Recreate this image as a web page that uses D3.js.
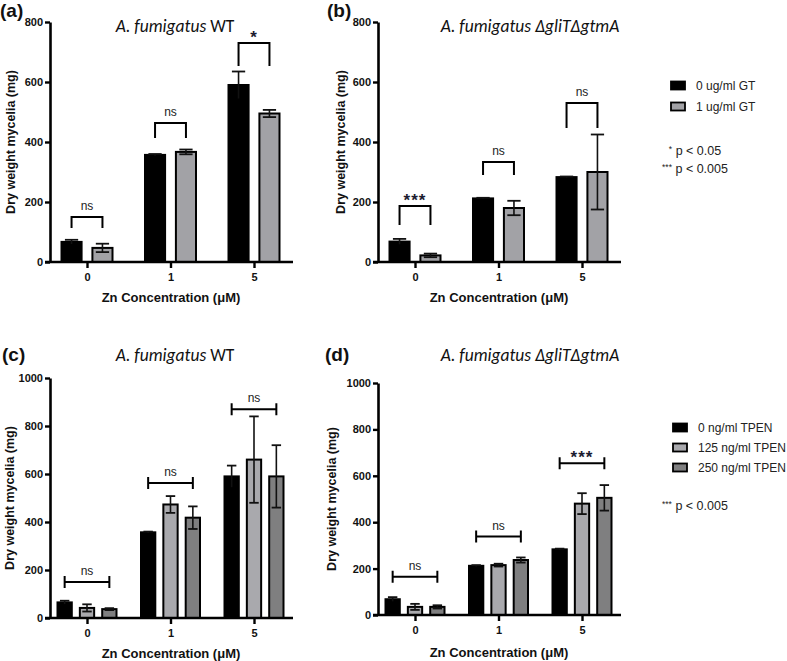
<!DOCTYPE html>
<html><head><meta charset="utf-8">
<script src="https://cdn.jsdelivr.net/npm/d3@7"></script>
<style>body{margin:0;background:#fff}svg{display:block}</style>
</head><body><svg id="chart" width="787" height="661"></svg>
<script>
// ---------- data ----------
const zinc = ["0", "1", "5"];
const gtSeries = ["0 ug/ml GT", "1 ug/ml GT"];
const tpenSeries = ["0 ng/ml TPEN", "125 ng/ml TPEN", "250 ng/ml TPEN"];
const ticksTop = [0, 200, 400, 600, 800];
const ticksBottom = [0, 200, 400, 600, 800, 1000];

// (a) WT, gliotoxin
const wtGT0 = [67, 357, 590];     const wtGT0Err = [7, 3, 45];
const wtGT1 = [47, 367, 495];     const wtGT1Err = [14, 8, 12];
const wtGTSig = ["ns", "ns", "*"];
const wtGTBracket = [150, 463, 730];
const wtGTLeg = [113, 413, 653];

// (b) ΔgliTΔgtmA, gliotoxin
const mutGT0 = [68, 212, 283];    const mutGT0Err = [9, 2, 2];
const mutGT1 = [22, 180, 300];    const mutGT1Err = [6, 24, 125];
const mutGTSig = ["***", "ns", "ns"];
const mutGTBracket = [187, 333, 530];
const mutGTLeg = [123, 290, 447];

// (c) WT, TPEN
const wtTP0 = [65, 357, 590];     const wtTP0Err = [7, 3, 45];
const wtTP125 = [42, 473, 660];   const wtTP125Err = [15, 35, 180];
const wtTP250 = [37, 418, 590];   const wtTP250Err = [4, 47, 130];
const wtTPSig = ["ns", "ns", "ns"];
const wtTPBracket = [150, 562, 870];

// (d) ΔgliTΔgtmA, TPEN
const mutTP0 = [68, 212, 283];    const mutTP0Err = [9, 3, 3];
const mutTP125 = [35, 215, 480];  const mutTP125Err = [13, 6, 45];
const mutTP250 = [35, 237, 505];  const mutTP250Err = [7, 11, 55];
const mutTPSig = ["ns", "ns", "***"];
const mutTPBracket = [165, 338, 654];

// ---------- styles ----------
const BLACK = "#000000", GRAY = "#a2a2a6", LIGHT = "#a9a9ad", DARK = "#7f7f80";
const SANS = "'Liberation Sans', Arial, sans-serif";
const TITLE = "Carlito, Lato, 'Open Sans', sans-serif";

const svg = d3.select("#chart");

function panel(cfg) {
  const g = svg.append("g");
  const y = d3.scaleLinear().domain([0, cfg.max]).range([cfg.y0, cfg.yTop]);
  const x = d3.scalePoint().domain(zinc).range([cfg.x0 + 37, cfg.x0 + 204]);
  const n = cfg.series.length;
  const inner = d3.scaleBand().domain(d3.range(n))
    .range(n === 2 ? [-25.5, 25.5] : [-29.5, 29.5]).paddingInner(n === 2 ? 0.35 : 0.36);
  const bw = inner.bandwidth();

  // bars
  cfg.series.forEach((s, si) => {
    zinc.forEach((z, i) => {
      const cx = x(z) + inner(si);
      g.append("rect").attr("x", cx).attr("y", y(s.vals[i]))
        .attr("width", bw).attr("height", y(0) - y(s.vals[i]))
        .attr("fill", s.fill).attr("stroke", "#000").attr("stroke-width", 2);
    });
  });
  // error bars
  cfg.series.forEach((s, si) => {
    zinc.forEach((z, i) => {
      const c = x(z) + inner(si) + bw / 2;
      const hi = y(s.vals[i] + s.errs[i]), lo = y(Math.max(0, s.vals[i] - s.errs[i]));
      const cw = bw * 0.33;
      const col = "#111";
      g.append("line").attr("x1", c).attr("x2", c).attr("y1", hi).attr("y2", lo)
        .attr("stroke", col).attr("stroke-width", 1.6);
      g.append("line").attr("x1", c - cw).attr("x2", c + cw).attr("y1", hi).attr("y2", hi)
        .attr("stroke", col).attr("stroke-width", 1.8);
      if (s.fill !== BLACK) {
        g.append("line").attr("x1", c - cw).attr("x2", c + cw).attr("y1", lo).attr("y2", lo)
          .attr("stroke", col).attr("stroke-width", 1.8);
      }
    });
  });

  // axes
  const ya = d3.axisLeft(y).tickValues(cfg.ticks).tickFormat(d3.format("d"))
    .tickSize(5).tickSizeOuter(0).tickPadding(2);
  const yg = g.append("g").attr("transform", `translate(${cfg.x0},0)`).call(ya);
  yg.select(".domain").attr("stroke-width", 2.6);
  yg.selectAll(".tick line").attr("stroke-width", 2.4);
  yg.selectAll(".tick text").attr("font-family", SANS).attr("font-size", 11)
    .attr("font-weight", "bold").attr("fill", "#111");
  const xa = d3.axisBottom(x).tickSize(6).tickSizeOuter(0).tickPadding(5);
  const xg = g.append("g").attr("transform", `translate(0,${cfg.y0})`).call(xa);
  xg.select(".domain").remove();
  xg.append("line").attr("x1", cfg.x0 - 5).attr("x2", cfg.x0 + 243).attr("y1", 0).attr("y2", 0)
    .attr("stroke", "#000").attr("stroke-width", 2.6);
  xg.selectAll(".tick line").attr("stroke-width", 2.4);
  xg.selectAll(".tick text").attr("font-family", SANS).attr("font-size", 11)
    .attr("font-weight", "bold").attr("fill", "#111");

  // axis titles
  g.append("text").attr("transform", `translate(${cfg.x0 - cfg.ylabOff},${(cfg.y0 + cfg.yTop) / 2}) rotate(-90)`)
    .attr("text-anchor", "middle").attr("dominant-baseline", "central")
    .attr("font-family", SANS).attr("font-weight", "bold").attr("font-size", 12.5).attr("fill", "#111")
    .text("Dry weight mycelia (mg)");
  g.append("text").attr("x", cfg.x0 + 121).attr("y", cfg.xlabY)
    .attr("text-anchor", "middle").attr("font-family", SANS).attr("font-weight", "bold")
    .attr("font-size", 13).attr("fill", "#111")
    .text("Zn Concentration (\u03bcM)");

  // title
  const t = g.append("text").attr("x", cfg.titleX).attr("y", cfg.titleY)
    .attr("text-anchor", "middle").attr("font-family", TITLE).attr("font-size", 17.5).attr("fill", "#111");
  t.append("tspan").attr("font-style", "italic").text(cfg.title[0]);
  t.append("tspan").attr("font-style", cfg.title[2] ? "italic" : "normal").text(cfg.title[1]);

  // panel letter
  g.append("text").attr("x", cfg.letterX).attr("y", cfg.letterY)
    .attr("font-family", SANS).attr("font-weight", "bold").attr("font-size", 19).attr("fill", "#111")
    .text(cfg.letter);

  // significance
  zinc.forEach((z, i) => {
    const xa1 = x(z) + inner(0) + bw / 2, xa2 = x(z) + inner(n - 1) + bw / 2;
    const by = y(cfg.bracket[i]);
    if (cfg.leg) {
      const ly = y(cfg.leg[i]);
      g.append("path").attr("d", `M${xa1},${ly}V${by}H${xa2}V${ly}`)
        .attr("fill", "none").attr("stroke", "#000").attr("stroke-width", 2);
    } else {
      g.append("path").attr("d", `M${xa1},${by - 6}V${by + 6}M${xa1},${by}H${xa2}M${xa2},${by - 6}V${by + 6}`)
        .attr("fill", "none").attr("stroke", "#000").attr("stroke-width", 2);
    }
    const lab = cfg.sig[i];
    const star = lab.indexOf("*") >= 0;
    g.append("text").attr("x", (xa1 + xa2) / 2).attr("y", by - (star ? 0 : 7))
      .attr("text-anchor", "middle").attr("font-family", SANS)
      .attr("font-size", star ? 17 : 12).attr("font-weight", star ? "bold" : "normal")
      .attr("fill", star ? "#1c1c30" : "#222").attr("letter-spacing", star ? 1 : 0)
      .text(lab);
  });

  // legend
  const lg = svg.append("g");
  cfg.legend.forEach((name, k) => {
    const ry = cfg.legY + k * cfg.legStep;
    lg.append("rect").attr("x", cfg.legX).attr("y", ry - 4.5).attr("width", 14).attr("height", 8)
      .attr("fill", cfg.series[k].fill).attr("stroke", "#000").attr("stroke-width", 1.8);
    lg.append("text").attr("x", cfg.legX + 25).attr("y", ry).attr("dominant-baseline", "central")
      .attr("font-family", SANS).attr("font-size", 12).attr("fill", "#222").text(name);
  });
  cfg.notes.forEach((nt, k) => {
    const tx = lg.append("text").attr("x", cfg.noteX).attr("y", cfg.noteY + k * 18)
      .attr("text-anchor", cfg.noteAnchor).attr("font-family", SANS).attr("font-size", 12.5).attr("fill", "#222");
    tx.append("tspan").attr("font-size", 8.5).attr("dy", -3).text(nt[0]);
    tx.append("tspan").attr("dy", 3).text(" " + nt[1]);
  });
}

panel({
  x0: 50, y0: 262, yTop: 22, max: 800, ticks: ticksTop, ylabOff: 39, xlabY: 302,
  series: [{vals: wtGT0, errs: wtGT0Err, fill: BLACK}, {vals: wtGT1, errs: wtGT1Err, fill: GRAY}],
  sig: wtGTSig, bracket: wtGTBracket, leg: wtGTLeg,
  title: ["A. fumigatus ", "WT"], titleX: 175, titleY: 32, letter: "(a)", letterX: 0, letterY: 17,
  legend: [], notes: []
});
panel({
  x0: 378, y0: 262, yTop: 22, max: 800, ticks: ticksTop, ylabOff: 37, xlabY: 302,
  series: [{vals: mutGT0, errs: mutGT0Err, fill: BLACK}, {vals: mutGT1, errs: mutGT1Err, fill: GRAY}],
  sig: mutGTSig, bracket: mutGTBracket, leg: mutGTLeg,
  title: ["A. fumigatus ", "\u0394gliT\u0394gtmA", true], titleX: 530, titleY: 32, letter: "(b)", letterX: 327, letterY: 17,
  legend: gtSeries, legX: 671, legY: 86, legStep: 21,
  notes: [["*", "p < 0.05"], ["***", "p < 0.005"]], noteX: 695, noteY: 155, noteAnchor: "middle"
});
panel({
  x0: 50, y0: 618, yTop: 378, max: 1000, ticks: ticksBottom, ylabOff: 40, xlabY: 658,
  series: [{vals: wtTP0, errs: wtTP0Err, fill: BLACK}, {vals: wtTP125, errs: wtTP125Err, fill: LIGHT},
           {vals: wtTP250, errs: wtTP250Err, fill: DARK}],
  sig: wtTPSig, bracket: wtTPBracket, leg: null,
  title: ["A. fumigatus ", "WT"], titleX: 175, titleY: 361, letter: "(c)", letterX: 2, letterY: 361,
  legend: [], notes: []
});
panel({
  x0: 378, y0: 615, yTop: 383, max: 1000, ticks: ticksBottom, ylabOff: 46, xlabY: 657,
  series: [{vals: mutTP0, errs: mutTP0Err, fill: BLACK}, {vals: mutTP125, errs: mutTP125Err, fill: LIGHT},
           {vals: mutTP250, errs: mutTP250Err, fill: DARK}],
  sig: mutTPSig, bracket: mutTPBracket, leg: null,
  title: ["A. fumigatus ", "\u0394gliT\u0394gtmA", true], titleX: 530, titleY: 361, letter: "(d)", letterX: 325, letterY: 361,
  legend: tpenSeries, legX: 673, legY: 428, legStep: 20,
  notes: [["***", "p < 0.005"]], noteX: 662, noteY: 510, noteAnchor: "start"
});
</script></body></html>
